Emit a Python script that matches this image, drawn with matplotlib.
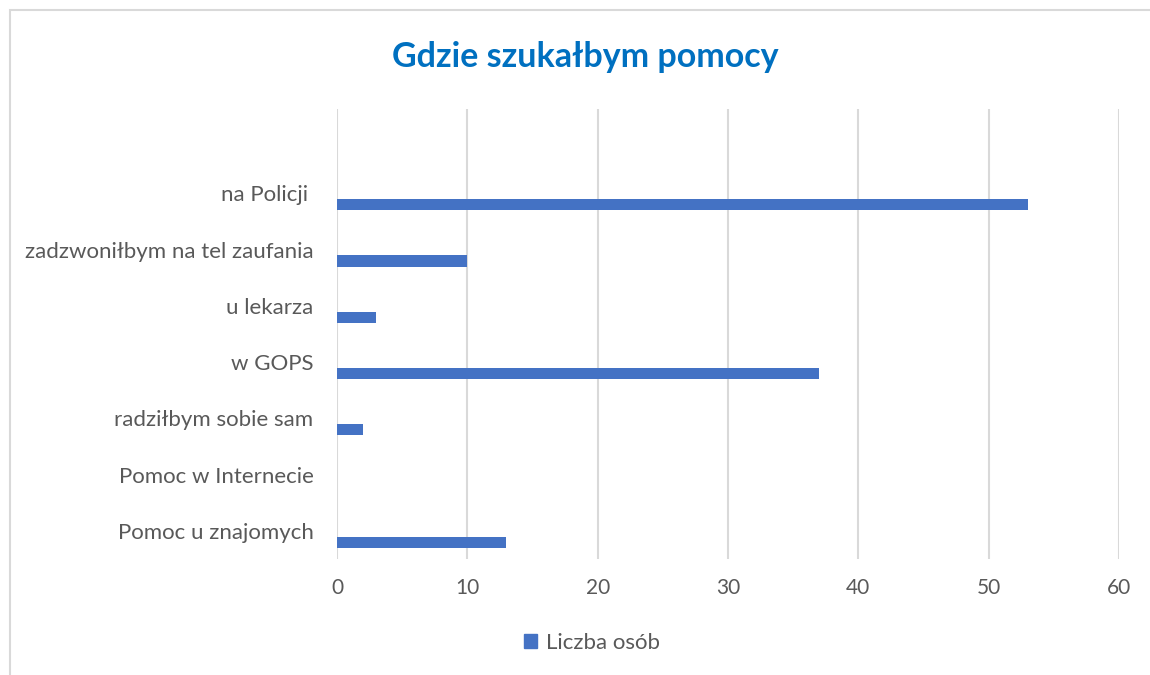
import matplotlib.pyplot as plt
from matplotlib.patches import Rectangle

# Data (top to bottom)
categories = ["na Policji ", "zadzwoniłbym na tel zaufania", "u lekarza", "w GOPS",
              "radziłbym sobie sam", "Pomoc w Internecie", "Pomoc u znajomych"]
values = [53, 10, 3, 37, 2, 0, 13]
series_name = "Liczba osób"
x_ticks = [0, 10, 20, 30, 40, 50, 60]

BAR_COLOR = "#4472C4"
GRID_COLOR = "#D9D9D9"
TEXT_COLOR = "#595959"

plt.rcParams['font.family'] = ['Lato', 'DejaVu Sans']

fig = plt.figure(figsize=(11.5, 6.75), dpi=100)
ax = fig.add_axes([337 / 1150, 1 - 559 / 675, (1119 - 337) / 1150, (559 - 109) / 675])

# bottom category at 0, an empty slot on top (like the Excel chart)
n = len(categories)
pos = list(range(n - 1, -1, -1))
ax.barh([p - 0.2 for p in pos], values, height=0.2, color=BAR_COLOR, zorder=3)

ax.set_ylim(-0.5, n + 0.5)
ax.set_yticks(pos)
ax.set_yticklabels(categories, fontsize=16, color=TEXT_COLOR)
ax.set_xlim(0, 60)
ax.set_xticks(x_ticks)
ax.set_xticklabels([str(t) for t in x_ticks], fontsize=15, color=TEXT_COLOR)
ax.tick_params(axis='y', length=0, pad=17)
ax.tick_params(axis='x', length=0, pad=14)

ax.grid(axis='x', color=GRID_COLOR, linewidth=1.5, zorder=0)
for s in ax.spines.values():
    s.set_visible(False)

fig.text(585 / 1150, 1 - 57 / 675, "Gdzie szukałbym pomocy", ha='center', va='center',
         fontsize=24.5, fontweight='bold', color="#0070C0")

handle = Rectangle((0, 0), 1, 1, color=BAR_COLOR)
fig.legend([handle], [series_name], loc='center', bbox_to_anchor=(592 / 1150, 1 - 643 / 675),
           frameon=False, fontsize=16, labelcolor=TEXT_COLOR,
           handlelength=0.6, handleheight=0.6, handletextpad=0.4)

# outer chart frame (runs off the right and bottom edge)
fig.patches.append(Rectangle((9.5 / 1150, -0.05), 1.1, 1 - 10 / 675 + 0.05, transform=fig.transFigure,
                             fill=False, edgecolor=GRID_COLOR, linewidth=1.5))

fig.savefig("out.png", dpi=100)
